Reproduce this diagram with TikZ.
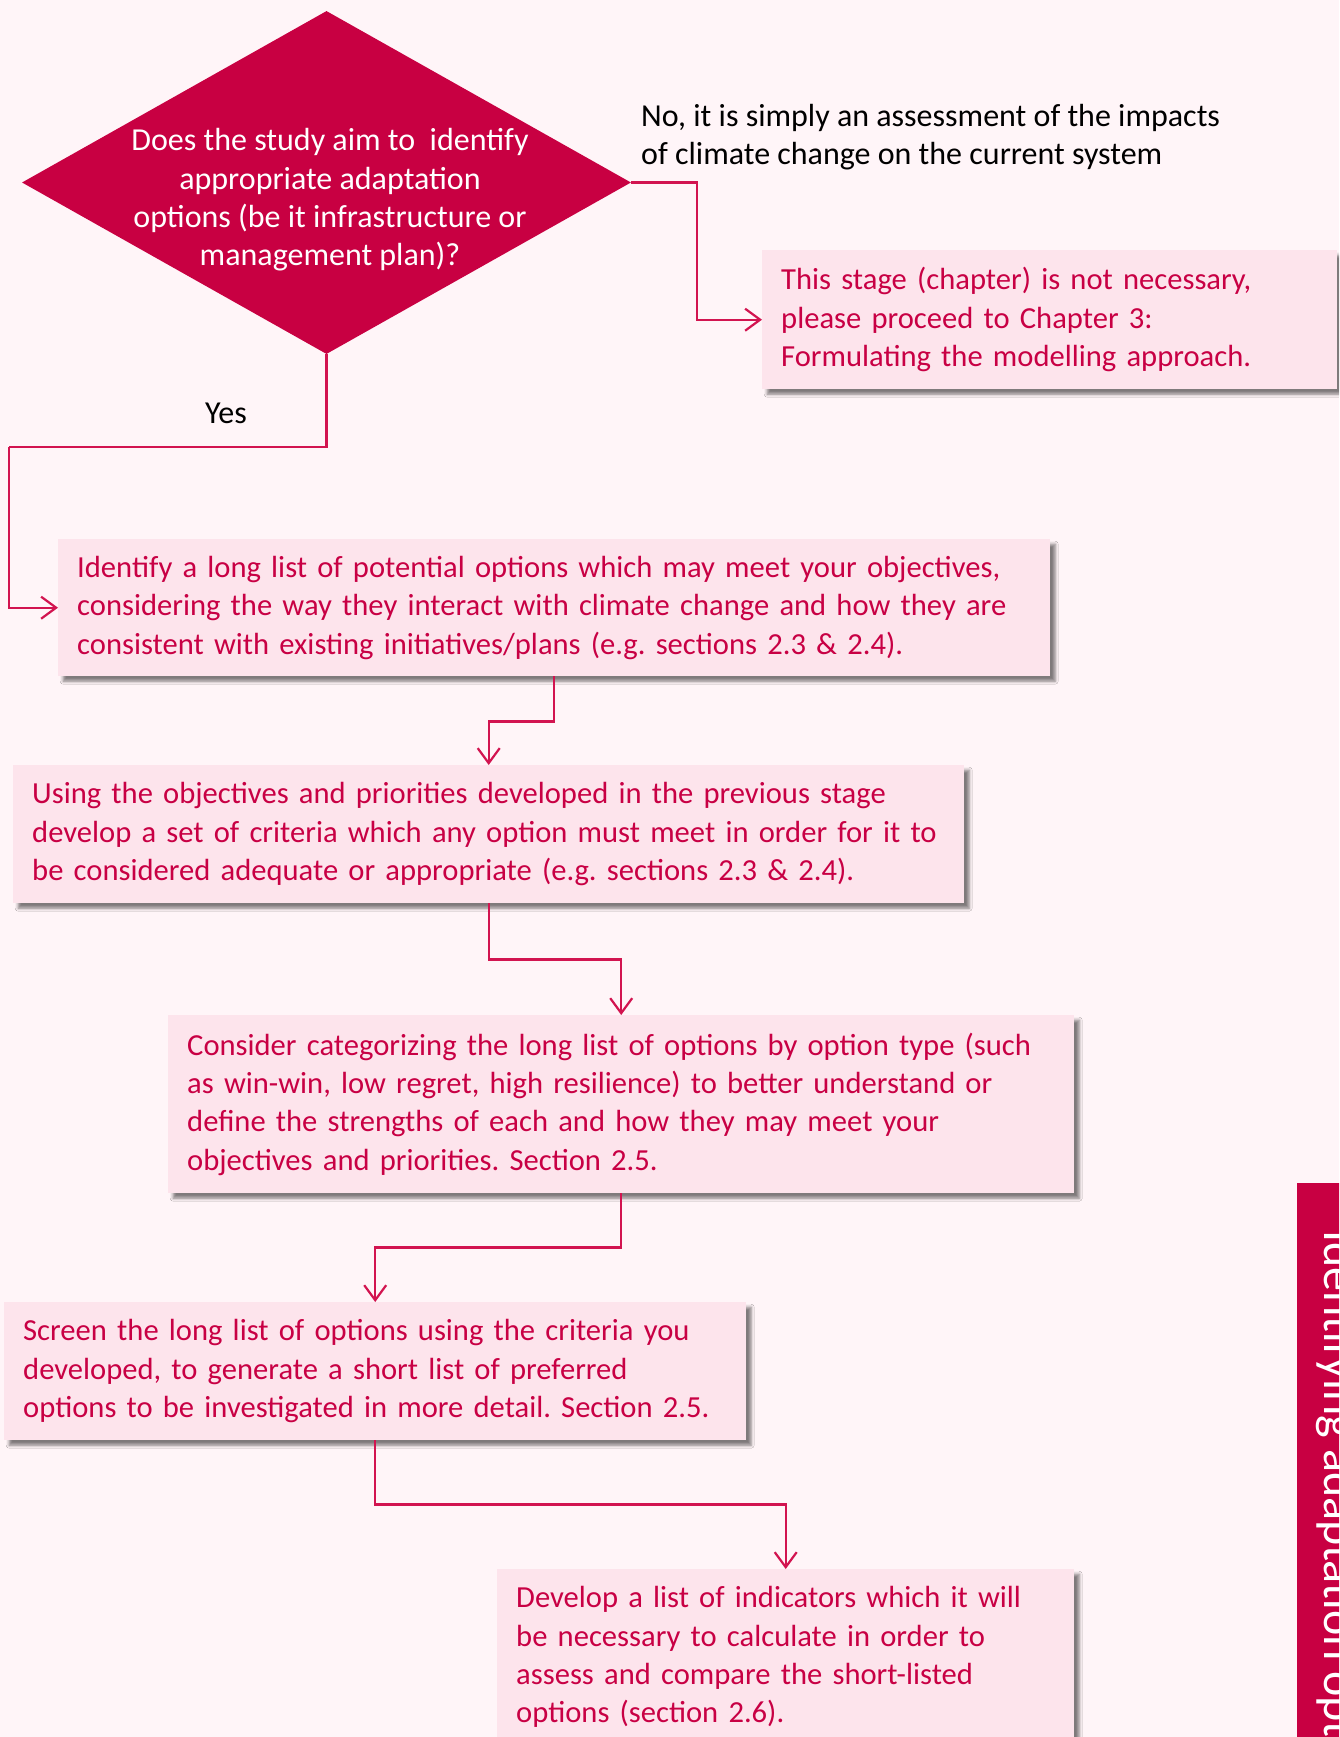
\documentclass[tikz,border=0pt]{standalone}
\usepackage{fontspec}
\setmainfont{Carlito}
\usetikzlibrary{shapes.geometric,arrows.meta,shadows.blur}

\definecolor{pagebg}{RGB}{255,245,248}
\definecolor{boxfill}{RGB}{253,228,236}
\definecolor{crim}{RGB}{200,0,66}
\definecolor{crimtext}{RGB}{200,0,68}
\definecolor{crimline}{RGB}{210,20,80}

\newcommand\boxfont{\fontsize{30.6}{38.4}\selectfont}
\newcommand\bigfont{\fontsize{32}{38.4}\selectfont}

\tikzset{
  stepbox/.style={rectangle, fill=boxfill, text=crimtext, font=\boxfont,
    align=left, anchor=north west, inner xsep=19pt, inner ysep=0pt,
    blur shadow={shadow xshift=5pt, shadow yshift=-5pt,
      shadow blur radius=3pt, shadow opacity=50}},
  decision/.style={diamond, fill=crim, minimum width=609pt,
    minimum height=343pt, inner sep=0pt},
  plainlabel/.style={text=black, font=\bigfont, inner sep=0pt},
  flow/.style={draw=crimline, line width=2.2pt,
    -{Straight Barb[length=15pt,width=22pt]}},
  flowline/.style={draw=crimline, line width=2.2pt},
}

\begin{document}
\frenchspacing
\begin{tikzpicture}[x=1pt,y=-1pt]
\useasboundingbox (0,0) rectangle (1339,1737);
\clip (0,0) rectangle (1339,1737);
\fill[pagebg] (0,0) rectangle (1339,1737);

% decision
\node[decision] (q) at (326.5,182.5) {};
\node[text=white, font=\bigfont, align=center, inner sep=0pt] (qtext) at (330,200)
  {Does the study aim to\ \ identify\\appropriate adaptation\\options (be it infrastructure or\\management plan)?};

% answer labels
\node[plainlabel, align=left, anchor=west] (nolabel) at (641,137)
  {No, it is simply an assessment of the impacts\\of climate change on the current system};
\node[plainlabel] (yeslabel) at (226,413) {Yes};

% steps
\node[stepbox, text width=537pt, minimum height=139pt] (stage) at (762,250)
  {This stage (chapter) is not necessary,\\please proceed to Chapter 3:\\Formulating the modelling approach.};

\node[stepbox, text width=954pt, minimum height=137pt] (b1) at (58,539)
  {Identify a long list of potential options which may meet your objectives,\\considering the way they interact with climate change and how they are\\consistent with existing initiatives/plans (e.g. sections 2.3 \& 2.4).};

\node[stepbox, text width=913pt, minimum height=138pt] (b2) at (13,765)
  {Using the objectives and priorities developed in the previous stage\\develop a set of criteria which any option must meet in order for it to\\be considered adequate or appropriate (e.g. sections 2.3 \& 2.4).};

\node[stepbox, text width=868pt, minimum height=178pt] (b3) at (168,1015)
  {Consider categorizing the long list of options by option type (such\\as win-win, low regret, high resilience) to better understand or\\define the strengths of each and how they may meet your\\objectives and priorities. Section 2.5.};

\node[stepbox, text width=704pt, minimum height=138pt] (b4) at (4,1302)
  {Screen the long list of options using the criteria you\\developed, to generate a short list of preferred\\options to be investigated in more detail. Section 2.5.};

\node[stepbox, text width=539pt, minimum height=176pt] (b5) at (497,1569)
  {Develop a list of indicators which it will\\be necessary to calculate in order to\\assess and compare the short-listed\\options (section 2.6).};

% connectors
\draw[flow] (q.east) -- ++(66,0) |- (stage.west);
\coordinate (yesturn) at (9,447);
\draw[flowline] (q.south) |- (yesturn);
\draw[flow] (yesturn) |- (b1.west);
\draw[flow] (b1.south) -- ++(0,45) -| (b2.north);
\draw[flow] (b2.south) -- ++(0,56) -| (b3.north);
\draw[flow] (b3.south) -- ++(0,54) -| (b4.north);
\draw[flow] (b4.south) -- ++(0,64) -| (b5.north);

% side tab
\node[fill=crim, anchor=north west, minimum width=60pt, minimum height=580pt,
  inner sep=0pt] (side) at (1297,1183) {};
\node[text=white, font=\fontsize{48}{58}\selectfont, rotate=-90,
  anchor=base west, inner sep=0pt] (sidetext) at (1324,1230)
  {Identifying adaptation options};
\end{tikzpicture}
\end{document}
